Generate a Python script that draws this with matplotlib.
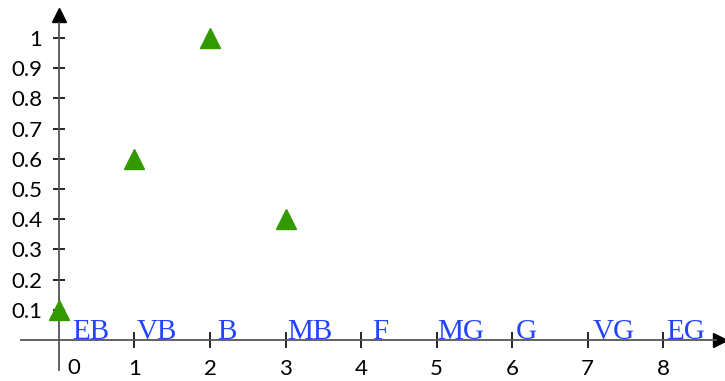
import matplotlib
matplotlib.use("Agg")
import matplotlib.pyplot as plt

# --- Data ---
point_x = [0, 1, 2, 3]
point_y = [0.1, 0.6, 1.0, 0.4]

grade_labels = ["EB", "VB", "B", "MB", "F", "MG", "G", "VG", "EG"]
grade_pos = [0.17, 1.03, 2.09, 3.02, 4.15, 5.01, 6.05, 7.07, 8.04]

x_ticks = [1, 2, 3, 4, 5, 6, 7, 8]
y_ticks = [0.1, 0.2, 0.3, 0.4, 0.5, 0.6, 0.7, 0.8, 0.9, 1.0]
y_tick_labels = ["0.1", "0.2", "0.3", "0.4", "0.5", "0.6", "0.7", "0.8", "0.9", "1"]

num_font = "Lato"
label_font = "Liberation Serif"

fig = plt.figure(figsize=(7.25, 3.81), dpi=100)
ax = fig.add_axes([0, 0, 1, 1])
ax.set_xlim(-0.781, 8.82)
ax.set_ylim(-0.136, 1.126)
ax.patch.set_alpha(0)

# --- Axes drawn through the origin ---
for side in ("top", "right"):
    ax.spines[side].set_visible(False)
ax.spines["bottom"].set_position(("data", 0))
ax.spines["left"].set_position(("data", 0))
ax.spines["bottom"].set_bounds(-0.5, 8.7)
ax.spines["left"].set_bounds(-0.1, 1.05)
for side in ("bottom", "left"):
    ax.spines[side].set_color("#555555")
    ax.spines[side].set_linewidth(1.3)

# arrow heads
ax.plot([8.76], [0], marker=">", color="black", ms=10, clip_on=False)
ax.plot([0], [1.075], marker="^", color="black", ms=10, clip_on=False)

ax.set_xticks(x_ticks)
ax.set_xticklabels([str(t) for t in x_ticks], fontfamily=num_font, fontsize=16)
ax.set_yticks(y_ticks)
ax.set_yticklabels(y_tick_labels, fontfamily=num_font, fontsize=16)
ax.tick_params(axis="x", direction="inout", length=12, width=1.2, pad=7.5, colors="black")
ax.tick_params(axis="y", direction="inout", length=8, width=1.2, pad=8, colors="black")

# the 0 label sits off to the right of the vertical axis
ax.annotate("0", xy=(0, 0), xytext=(11, -20), textcoords="offset points",
            ha="center", va="center", fontfamily=num_font, fontsize=16)

# --- Grade labels along the x axis ---
for pos, lab in zip(grade_pos, grade_labels):
    ax.text(pos, 0.004, lab, color="#2244ff", fontfamily=label_font, fontsize=21,
            ha="left", va="baseline")

# --- Points ---
ax.plot(point_x, point_y, linestyle="none", marker="^", color="#339900", ms=15,
        clip_on=False, zorder=5)

fig.savefig("out.png", dpi=100)
